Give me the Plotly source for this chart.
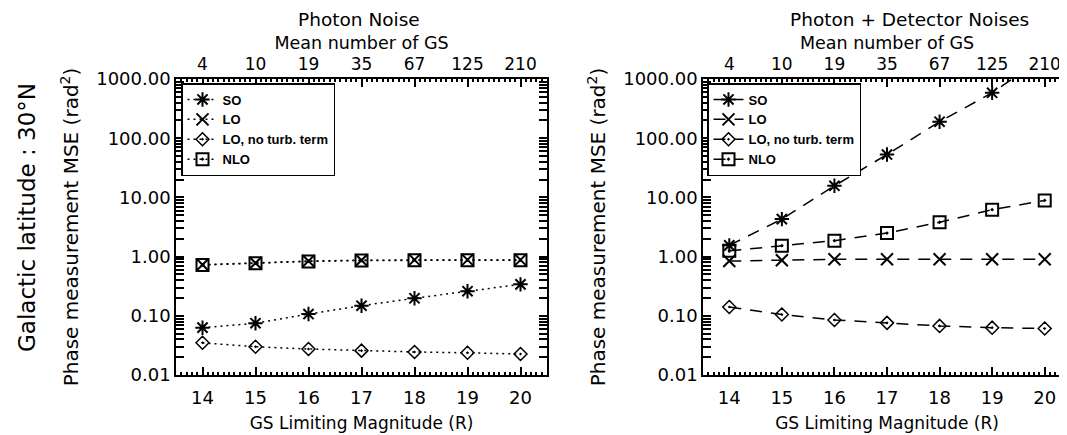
import plotly.graph_objects as go

# magnitudes and matching mean number of guide stars
mags = [14, 15, 16, 17, 18, 19, 20]
gs_counts = ['4', '10', '19', '35', '67', '125', '210']

# photon noise only (rad^2)
so_ph = [0.063, 0.075, 0.107, 0.148, 0.198, 0.26, 0.34]
lo_ph = [0.73, 0.78, 0.84, 0.87, 0.88, 0.88, 0.88]
lont_ph = [0.035, 0.030, 0.0275, 0.0258, 0.0245, 0.0237, 0.0226]
nlo_ph = [0.72, 0.77, 0.83, 0.86, 0.87, 0.87, 0.87]

# photon + detector noises (rad^2)
so_pd = [1.55, 4.3, 15.7, 53, 190, 585, 2400]
lo_pd = [0.84, 0.87, 0.9, 0.9, 0.9, 0.9, 0.9]
lont_pd = [0.141, 0.105, 0.085, 0.076, 0.0675, 0.063, 0.061]
nlo_pd = [1.25, 1.53, 1.86, 2.5, 3.8, 6.2, 8.9]

ytick_vals = [0.01, 0.1, 1, 10, 100, 1000]
ytick_text = ['0.01', '0.10', '1.00', '10.00', '100.00', '1000.00']

FONT = 'DejaVu Sans'
W, H = 1067, 435
OFF = 8  # page body margin

series = [
    ('SO', 'asterisk-open', 12, 2),
    ('LO', 'x-thin-open', 12, 2),
    ('LO, no turb. term', 'diamond-open-dot', 10, 1.5),
    ('NLO', 'square-open-dot', 12, 2),
]

fig = go.Figure()

panels = [
    ([so_ph, lo_ph, lont_ph, nlo_ph], 'x', 'y', '2px,4px', 'legend'),
    ([so_pd, lo_pd, lont_pd, nlo_pd], 'x2', 'y2', '12px,9px', 'legend2'),
]
for vals, xa, ya, dash, leg in panels:
    for (name, sym, size, lw), v in zip(series, vals):
        fig.add_trace(go.Scatter(
            x=mags, y=v, name=name, mode='lines+markers',
            xaxis=xa, yaxis=ya, legend=leg,
            line=dict(color='black', width=1.5, dash=dash),
            marker=dict(symbol=sym, size=size, color='black',
                        line=dict(color='black', width=lw)),
        ))

# empty traces so the top (GS count) axes get drawn
for xa, ya in [('x3', 'y'), ('x4', 'y2')]:
    fig.add_trace(go.Scatter(x=mags, y=[None] * len(mags), xaxis=xa, yaxis=ya,
                             showlegend=False, hoverinfo='skip'))


def px_x(p):
    return (p - OFF) / W


def px_y(p):
    return 1 - (p - OFF) / H


ydom = [px_y(375), px_y(79)]
xdom1 = [px_x(176), px_x(547)]
xdom2 = [px_x(703), px_x(1071)]
xr = [13.5, 20.5]

tickfont = dict(family=FONT, size=18, color='black')

xbase = dict(tickvals=mags, ticks='inside', ticklen=8, tickwidth=1.5,
             tickcolor='black', showline=True, linecolor='black', linewidth=1.5,
             showgrid=False, zeroline=False, tickfont=tickfont, automargin=False,
             range=xr,
             minor=dict(dtick=0.1, ticks='inside', ticklen=3, tickcolor='black',
                        showgrid=False))
xbottom = dict(xbase, mirror=True, ticklabelstandoff=6,
               title=dict(text='GS Limiting Magnitude (R)', standoff=10,
                          font=dict(family=FONT, size=17, color='black')))
xtop = dict(xbase, side='top', ticktext=gs_counts,
            tickfont=dict(family=FONT, size=17, color='black'),
            title=dict(text='Mean number of GS', standoff=0,
                       font=dict(family=FONT, size=17.5, color='black')))
ybase = dict(type='log', range=[-2, 3], tickvals=ytick_vals, ticktext=ytick_text,
             ticks='inside', ticklen=8, tickwidth=1.5, tickcolor='black',
             showline=True, linecolor='black', linewidth=1.5, mirror='allticks',
             showgrid=False, zeroline=False, tickfont=tickfont, automargin=False,
             minor=dict(dtick='D1', ticks='inside', ticklen=4, tickcolor='black',
                        showgrid=False),
             title=dict(text='Phase measurement MSE (rad<sup>2</sup>)', standoff=12,
                        font=dict(family=FONT, size=20, color='black')))

legbase = dict(y=px_y(83), xanchor='left', yanchor='top',
               bgcolor='white', bordercolor='black', borderwidth=1.5,
               font=dict(family='Liberation Sans', size=13, color='black', weight='bold'),
               tracegroupgap=0, itemwidth=30)

title_font = dict(family=FONT, size=18.5, color='black')

fig.update_layout(
    xaxis=dict(xbottom, domain=xdom1, anchor='y'),
    xaxis2=dict(xbottom, domain=xdom2, anchor='y2'),
    xaxis3=dict(xtop, overlaying='x', anchor='y'),
    xaxis4=dict(xtop, overlaying='x2', anchor='y2'),
    yaxis=dict(ybase, domain=ydom, anchor='x'),
    yaxis2=dict(ybase, domain=ydom, anchor='x2'),
    legend=dict(legbase, x=px_x(181)),
    legend2=dict(legbase, x=px_x(707)),
    annotations=[
        dict(text='Photon Noise', x=px_x(359), y=px_y(8), xref='paper', yref='paper',
             xanchor='center', yanchor='top', showarrow=False, borderpad=0,
             font=title_font),
        dict(text='Photon + Detector Noises', x=px_x(909), y=px_y(8), xref='paper',
             yref='paper', xanchor='center', yanchor='top', showarrow=False,
             borderpad=0, font=title_font),
        dict(text='Galactic latitude : 30°N', x=px_x(27), y=px_y(218), xref='paper',
             yref='paper', xanchor='center', yanchor='middle', showarrow=False,
             textangle=-90, font=dict(family=FONT, size=23, color='black')),
    ],
    width=W, height=H,
    margin=dict(l=0, r=0, t=0, b=0),
    paper_bgcolor='white', plot_bgcolor='white',
    showlegend=True,
)

fig.write_html('out.html')
